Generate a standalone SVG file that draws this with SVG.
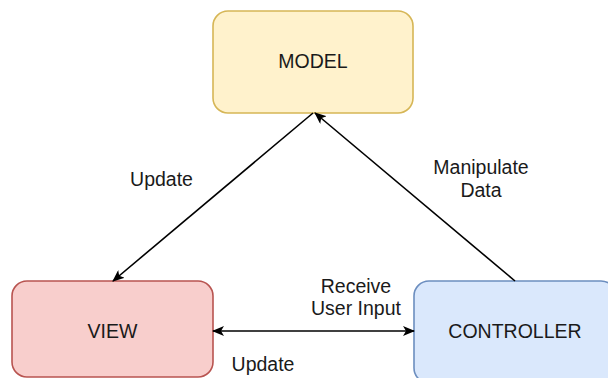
<svg xmlns="http://www.w3.org/2000/svg" width="608" height="378" viewBox="0 0 608 378">
  <style>
    text { font-family: "Liberation Sans", Arial, sans-serif; font-size: 19.5px; fill: #1a1a1a; text-anchor: middle; }
    .box { stroke-width: 1.6; }
    .edge { fill: none; stroke: #000; stroke-width: 1.6; }
  </style>
  <defs>
    <marker id="arrow" viewBox="0 0 12 10" refX="11" refY="5" markerWidth="12" markerHeight="10" markerUnits="userSpaceOnUse" orient="auto-start-reverse">
      <path d="M0,0 L12,5 L0,10 L3,5 Z" fill="#000"/>
    </marker>
  </defs>
  <rect width="608" height="378" fill="#fff"/>

  <g id="model">
    <rect class="box" x="213" y="11" width="200" height="102" rx="15" fill="#fff2cc" stroke="#d6b656"/>
    <text x="313" y="68">MODEL</text>
  </g>
  <g id="view">
    <rect class="box" x="12" y="281" width="201" height="96" rx="15" fill="#f8cecc" stroke="#b85450"/>
    <text x="112.5" y="338">VIEW</text>
  </g>
  <g id="controller">
    <rect class="box" x="414" y="281" width="202" height="102" rx="15" fill="#dae8fc" stroke="#6c8ebf"/>
    <text x="515" y="338">CONTROLLER</text>
  </g>

  <g id="connectors">
    <line class="edge" x1="313" y1="113" x2="113" y2="281" marker-end="url(#arrow)"/>
    <line class="edge" x1="515" y1="281" x2="315" y2="113" marker-end="url(#arrow)"/>
    <line class="edge" x1="213" y1="331" x2="414" y2="331" marker-start="url(#arrow)" marker-end="url(#arrow)"/>
    <text x="161.5" y="186">Update</text>
    <text x="481" y="174">Manipulate</text>
    <text x="481" y="197">Data</text>
    <text x="356" y="293">Receive</text>
    <text x="356" y="315">User Input</text>
    <text x="263" y="371">Update</text>
  </g>
</svg>
